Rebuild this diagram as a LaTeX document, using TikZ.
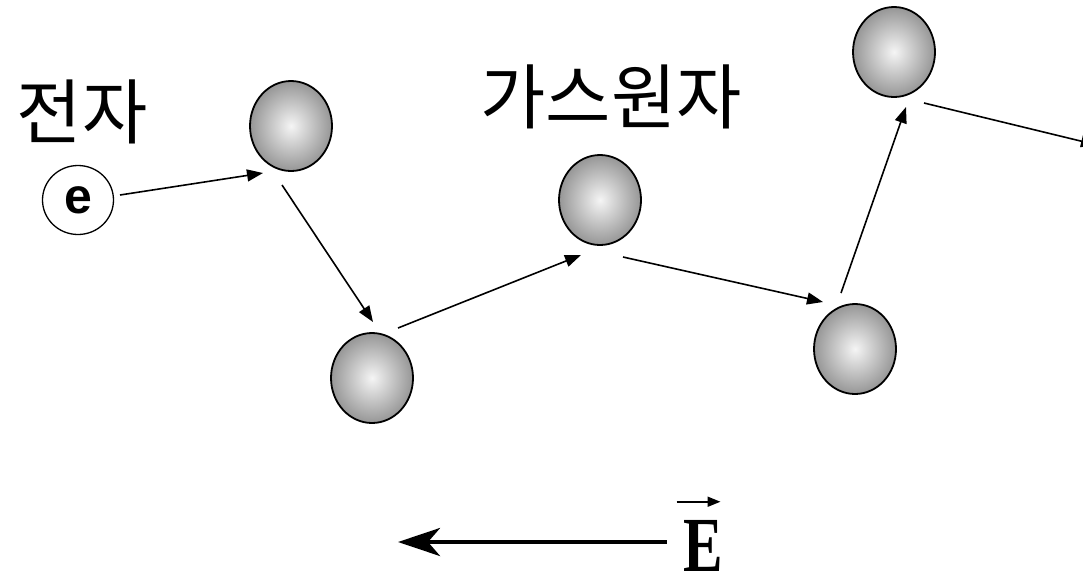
\documentclass[tikz,border=0pt]{standalone}
\usepackage{fontspec}
\setmainfont{Liberation Serif}
\newfontfamily\kr{Noto Sans CJK KR}
\newfontfamily\arialf{Liberation Sans}
\usetikzlibrary{shapes.geometric,arrows.meta,calc}
\definecolor{ballout}{RGB}{150,150,150}
\tikzset{
  ball/.style={ellipse,draw=black,line width=1.8pt,minimum width=82pt,minimum height=90pt,inner sep=0pt,
    shading=radial,inner color=white!96!black,outer color=ballout},
  arr/.style={line width=1.6pt,-{Triangle[length=16pt,width=12pt]}},
  krlabel/.style={font=\kr\fontsize{71}{73}\selectfont,inner sep=0pt}
}
\begin{document}
\begin{tikzpicture}[x=1pt,y=-1pt]
\useasboundingbox (0,0) rectangle (1083,574);
\node[krlabel] (lblE) at (82,112) {전자};
\node[krlabel] (lblG) at (611,97) {가스원자};
\node[ellipse,draw=black,line width=1.3pt,fill=white,minimum width=71pt,minimum height=69pt,inner sep=0pt,
  font=\arialf\bfseries\fontsize{50}{50}\selectfont] (e) at (78,200) {e};
\node[ball] (b1) at (291,126) {};
\node[ball] (b2) at (372,378) {};
\node[ball] (b3) at (600,200) {};
\node[ball] (b4) at (894,52) {};
\node[ball] (b5) at (855,349) {};
\coordinate (exit) at (1097,145);
\draw[arr] ($(e)+(42,-5)$) -- ($(b1)+(-28,47)$);
\draw[arr] ($(b1)+(-9,59)$) -- ($(b2)+(1,-56)$);
\draw[arr] ($(b2)+(26,-50)$) -- ($(b3)+(-19,55)$);
\draw[arr] ($(b3)+(23,57)$) -- ($(b5)+(-32,-47)$);
\draw[arr] ($(b5)+(-14,-56)$) -- ($(b4)+(12,55)$);
\draw[arr] ($(b4)+(30,51)$) -- (exit);
\node[anchor=base,inner sep=0pt,font=\bfseries\fontsize{78}{78}\selectfont] (E) at (703.5,571) {\scalebox{0.76}[1]{E}};
\coordinate (Etip) at (398,542);
\draw[line width=4.5pt,-{Stealth[length=42pt,width=28pt,inset=12pt]}] ($(E.west |- Etip)+(-17,0)$) -- (Etip);
\draw[line width=1.8pt,-{Triangle[length=13pt,width=10pt]}] ($(E.north)+(-27,-18)$) -- ($(E.north)+(17,-18)$);
\end{tikzpicture}
\end{document}
